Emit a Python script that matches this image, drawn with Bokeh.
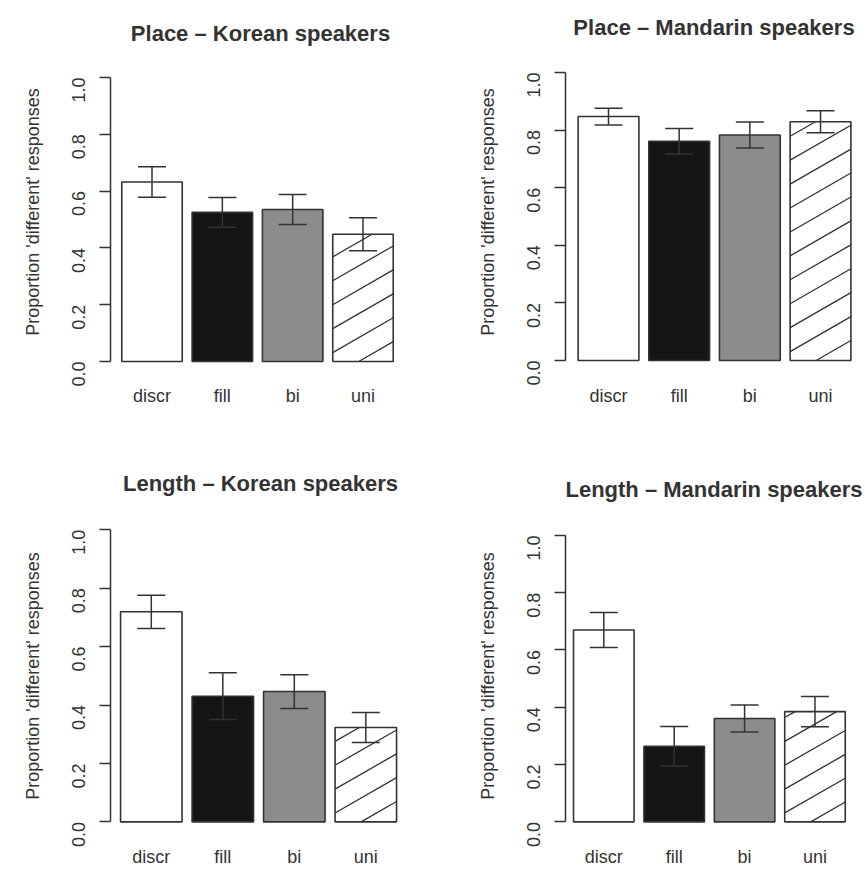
import math
from bokeh.plotting import figure
from bokeh.models import (Range1d, FixedTicker, PrintfTickFormatter, Whisker,
                          ColumnDataSource, TeeHead)
from bokeh.layouts import row, column
from bokeh.embed import file_html
from bokeh.resources import INLINE

# ---------------- data ----------------
conditions = ["discr", "fill", "bi", "uni"]
y_ticks = [0.0, 0.2, 0.4, 0.6, 0.8, 1.0]
y_label = "Proportion 'different' responses"

title_place_korean = "Place \u2013 Korean speakers"
place_korean_mean = [0.632, 0.525, 0.535, 0.448]
place_korean_err = [0.054, 0.052, 0.053, 0.058]

title_place_mandarin = "Place \u2013 Mandarin speakers"
place_mandarin_mean = [0.847, 0.761, 0.783, 0.829]
place_mandarin_err = [0.029, 0.044, 0.045, 0.038]

title_length_korean = "Length \u2013 Korean speakers"
length_korean_mean = [0.719, 0.430, 0.446, 0.323]
length_korean_err = [0.057, 0.080, 0.058, 0.051]

title_length_mandarin = "Length \u2013 Mandarin speakers"
length_mandarin_mean = [0.670, 0.264, 0.361, 0.385]
length_mandarin_err = [0.061, 0.069, 0.047, 0.053]

# ---------------- styling ----------------
FONT = "Liberation Sans"
INK = "#333333"
bar_fills = ["#ffffff", "#151515", "#8c8c8c", "#ffffff"]
hatched = [False, False, False, True]
BAR_W = 0.86                # bar width relative to bar spacing


def make_panel(title, means, errs, width, height, borders, xr, yr, title_standoff):
    bl, br, bt, bb = borders
    xs = list(range(1, len(conditions) + 1))
    p = figure(width=width, height=height, output_backend="svg",
               toolbar_location=None, tools="",
               x_range=Range1d(*xr), y_range=Range1d(*yr),
               min_border_left=bl, min_border_right=br,
               min_border_top=bt, min_border_bottom=bb,
               background_fill_color="white", border_fill_color="white")
    p.outline_line_color = None
    p.grid.visible = False

    frame_w = width - bl - br
    frame_h = height - bt - bb
    kx = frame_w / (xr[1] - xr[0])
    ky = frame_h / (yr[1] - yr[0])

    # title
    p.title.text = title
    p.title.align = "center"
    p.title.text_font = FONT
    p.title.text_font_size = "22px"
    p.title.text_font_style = "bold"
    p.title.text_color = INK
    p.title.standoff = title_standoff

    # bars
    src = ColumnDataSource(dict(
        x=xs, top=means, fill=bar_fills,
        upper=[m + e for m, e in zip(means, errs)],
        lower=[m - e for m, e in zip(means, errs)],
    ))
    p.vbar(x="x", top="top", bottom=0, width=BAR_W, source=src,
           fill_color="fill", line_color=INK, line_width=1.6)

    # hatch lines (30 degrees, R-style density) for hatched bars
    t = math.tan(math.radians(30))
    spacing = 24.0      # vertical spacing of hatch lines, px
    phase = 26.0        # where a line meets the bar's base, px from its left edge
    hx0, hx1, hy0, hy1 = [], [], [], []
    for xi, m, h in zip(xs, means, hatched):
        if not h:
            continue
        W = BAR_W * kx
        H = m * ky
        left = xi - BAR_W / 2
        c = -t * phase
        while c - spacing > -t * W:
            c -= spacing
        while c < H:
            u_lo = max(0.0, -c / t)
            u_hi = min(W, (H - c) / t)
            if u_hi > u_lo:
                hx0.append(left + u_lo / kx)
                hy0.append((t * u_lo + c) / ky)
                hx1.append(left + u_hi / kx)
                hy1.append((t * u_hi + c) / ky)
            c += spacing
    p.segment(x0=hx0, y0=hy0, x1=hx1, y1=hy1, line_color=INK, line_width=1.3)

    # error bars
    wh = Whisker(source=src, base="x", upper="upper", lower="lower",
                 line_color=INK, line_width=1.5, level="annotation",
                 upper_head=TeeHead(size=28, line_color=INK, line_width=1.5),
                 lower_head=TeeHead(size=28, line_color=INK, line_width=1.5))
    p.add_layout(wh)

    # y axis
    ya = p.yaxis[0]
    ya.ticker = FixedTicker(ticks=y_ticks)
    ya.formatter = PrintfTickFormatter(format="%.1f")
    ya.bounds = (0, 1)
    ya.major_label_orientation = math.pi / 2
    ya.major_tick_out = 11
    ya.major_tick_in = 0
    ya.minor_tick_out = 0
    ya.minor_tick_in = 0
    ya.axis_line_color = INK
    ya.axis_line_width = 1.5
    ya.major_tick_line_color = INK
    ya.major_tick_line_width = 1.5
    ya.major_label_text_font = FONT
    ya.major_label_text_font_size = "18px"
    ya.major_label_text_color = INK
    ya.major_label_standoff = 21
    ya.axis_label = y_label
    ya.axis_label_text_font = FONT
    ya.axis_label_text_font_size = "18px"
    ya.axis_label_text_font_style = "normal"
    ya.axis_label_text_color = INK
    ya.axis_label_standoff = 20

    # x axis: labels only
    xa = p.xaxis[0]
    xa.ticker = FixedTicker(ticks=xs)
    xa.major_label_overrides = {i: c for i, c in zip(xs, conditions)}
    xa.axis_line_color = None
    xa.major_tick_line_color = None
    xa.minor_tick_line_color = None
    xa.major_tick_out = 0
    xa.major_tick_in = 0
    xa.major_label_text_font = FONT
    xa.major_label_text_font_size = "18px"
    xa.major_label_text_color = INK
    xa.major_label_standoff = 13
    return p


# layout: shared borders per row / column, panel-specific ranges
p1 = make_panel(title_place_korean, place_korean_mean, place_korean_err,
                438, 438, (110, 28, 50, 66),
                (0.4099, 4.6755), (-0.0386, 1.0912), 12)
p2 = make_panel(title_place_mandarin, place_mandarin_mean, place_mandarin_err,
                426, 438, (127, 2, 50, 66),
                (0.3915, 4.594), (-0.0415, 1.0727), 24)
p3 = make_panel(title_length_korean, length_korean_mean, length_korean_err,
                438, 431, (110, 28, 80, 34),
                (0.4294, 4.625), (-0.0398, 1.0384), 45)
p4 = make_panel(title_length_mandarin, length_mandarin_mean, length_mandarin_err,
                426, 431, (127, 2, 80, 34),
                (0.456, 4.675), (-0.0406, 1.059), 33)

layout = column(row(p1, p2, spacing=0), row(p3, p4, spacing=0), spacing=0)

html = file_html(layout, INLINE, title="Proportion different responses")
with open("out.html", "w") as f:
    f.write(html)
